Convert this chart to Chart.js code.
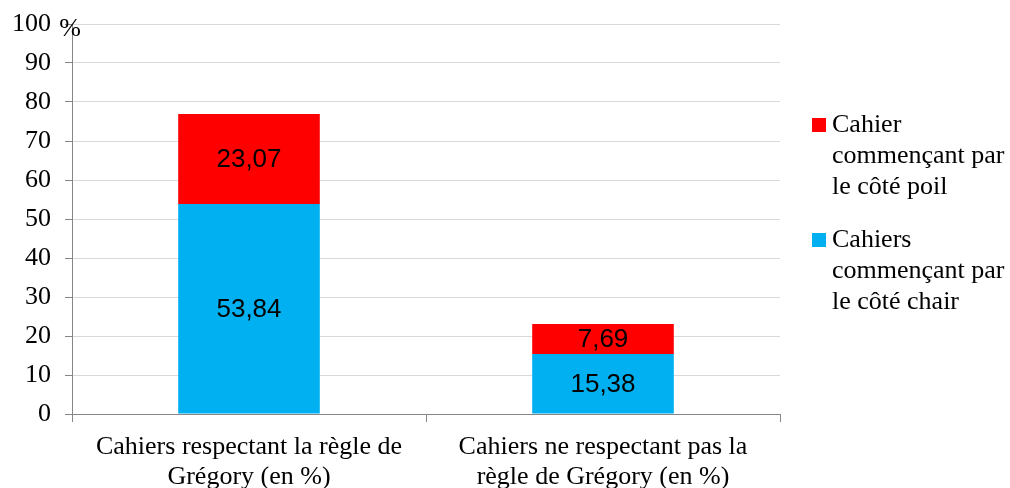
<!DOCTYPE html>
<html lang="fr">
<head>
<meta charset="utf-8">
<title>Règle de Grégory</title>
<script src="https://cdn.jsdelivr.net/npm/chart.js@4/dist/chart.umd.min.js"></script>
<style>
  html, body { margin: 0; padding: 0; background: #fff; }
  #wrap { width: 1010px; height: 488px; }
</style>
</head>
<body>
<div id="wrap"><canvas id="gregoryChart" width="1010" height="488"></canvas></div>
<script>
// categories (multi-line axis labels)
const categories = [
    ['Cahiers respectant la règle de', 'Grégory (en %)'],
    ['Cahiers ne respectant pas la', 'règle de Grégory (en %)']
];
// percentages per category
const chairValues = [53.84, 15.38];
const poilValues = [23.07, 7.69];
const seriesNames = ['Cahiers commençant par le côté chair', 'Cahier commençant par le côté poil'];
// legend text, wrapped like the original
const legendChair = ['Cahiers', 'commençant par', 'le côté chair'];
const legendPoil = ['Cahier', 'commençant par', 'le côté poil'];
const yTicks = [0, 10, 20, 30, 40, 50, 60, 70, 80, 90, 100];

const BLUE = '#00b0f0';
const RED = '#ff0000';
const SERIF = '"Liberation Serif", "Times New Roman", serif';
const SANS = '"Liberation Sans", Arial, sans-serif';

// value labels inside each segment, with a decimal comma
const segmentLabels = {
    id: 'segmentLabels',
    afterDatasetsDraw(chart) {
        const ctx = chart.ctx;
        ctx.save();
        ctx.font = '26px ' + SANS;
        ctx.fillStyle = '#000';
        ctx.textAlign = 'center';
        ctx.textBaseline = 'middle';
        chart.data.datasets.forEach((ds, i) => {
            chart.getDatasetMeta(i).data.forEach((bar, j) => {
                const txt = ds.data[j].toFixed(2).replace('.', ',');
                ctx.fillText(txt, bar.x, (bar.y + bar.base) / 2 + 1);
            });
        });
        ctx.restore();
    }
};

// "%" unit next to the top tick + legend on the right
const extras = {
    id: 'extras',
    afterDraw(chart) {
        const ctx = chart.ctx;
        const area = chart.chartArea;
        ctx.save();
        ctx.font = '26px ' + SERIF;
        ctx.fillStyle = '#000';
        ctx.textBaseline = 'middle';
        ctx.textAlign = 'center';
        ctx.fillText('%', area.left - 2, area.top + 5);

        const items = [
            { color: RED, lines: legendPoil, y: 125 },
            { color: BLUE, lines: legendChair, y: 240 }
        ];
        ctx.textAlign = 'left';
        items.forEach(it => {
            ctx.fillStyle = it.color;
            ctx.fillRect(812, it.y - 7, 14, 14);
            ctx.fillStyle = '#000';
            it.lines.forEach((l, k) => ctx.fillText(l, 832, it.y + k * 31));
        });
        ctx.restore();
    }
};

new Chart(document.getElementById('gregoryChart'), {
    type: 'bar',
    data: {
        labels: categories,
        datasets: [
            { label: seriesNames[0], data: chairValues, backgroundColor: BLUE },
            { label: seriesNames[1], data: poilValues, backgroundColor: RED }
        ]
    },
    options: {
        responsive: false,
        animation: false,
        events: [],
        layout: { padding: { top: 0, right: 230, left: 0, bottom: 0 } },
        datasets: { bar: { categoryPercentage: 1, barPercentage: 0.4 } },
        plugins: {
            legend: { display: false },
            tooltip: { enabled: false }
        },
        scales: {
            x: {
                stacked: true,
                offset: true,
                border: { color: '#868686', width: 1 },
                grid: { offset: true, drawOnChartArea: false, color: '#868686', tickLength: 8 },
                ticks: {
                    color: '#000',
                    font: { family: SERIF, size: 26, lineHeight: 1.15 },
                    padding: 10,
                    maxRotation: 0
                },
                afterFit(scale) { scale.height = 74; }
            },
            y: {
                stacked: true,
                min: 0,
                max: 100,
                afterBuildTicks(scale) { scale.ticks = yTicks.map(v => ({ value: v })); },
                border: { color: '#868686', width: 1 },
                grid: { color: '#d9d9d9', tickColor: '#868686', tickLength: 7 },
                ticks: {
                    color: '#000',
                    font: { family: SERIF, size: 26 },
                    padding: 14,
                    autoSkip: false
                },
                afterFit(scale) {
                    scale.width = 72;
                    // fixed room above the 100 line
                    scale.paddingTop = 24;
                }
            }
        }
    },
    plugins: [segmentLabels, extras]
});
</script>
</body>
</html>
